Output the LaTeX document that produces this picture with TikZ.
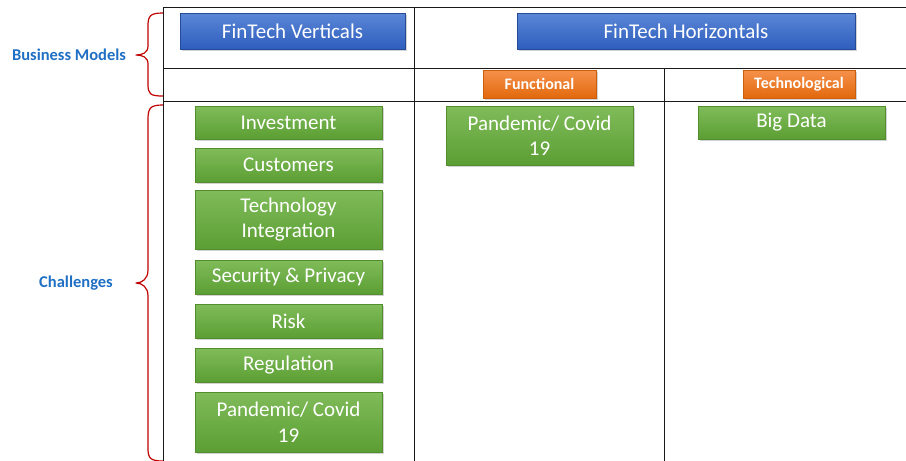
\documentclass[tikz,border=0pt]{standalone}
\usepackage{fontspec}
\setmainfont{Carlito}
\usetikzlibrary{shadows}
\definecolor{bluetop}{HTML}{5B87D6}
\definecolor{bluebot}{HTML}{2E5EBE}
\definecolor{greentop}{HTML}{80BC5A}
\definecolor{greenbot}{HTML}{5B9E33}
\definecolor{orangetop}{HTML}{F5914C}
\definecolor{orangebot}{HTML}{E2690C}
\definecolor{labelblue}{HTML}{1F6FC5}
\definecolor{bracered}{HTML}{C00000}
\tikzset{
  x=1pt, y=-1pt,
  boxbase/.style={rectangle, inner sep=0pt, text=white, align=center,
    drop shadow={opacity=0.35, shadow xshift=1.5pt, shadow yshift=-1.5pt}},
  bluebox/.style={boxbase, top color=bluetop, bottom color=bluebot, draw=bluebot!80!black, line width=0.3pt,
    font=\fontsize{21}{24}\selectfont},
  greenbox/.style={boxbase, top color=greentop, bottom color=greenbot, draw=greenbot!90!black, line width=0.2pt,
    minimum width=187pt, font=\fontsize{21}{25.5}\selectfont},
  orangebox/.style={boxbase, top color=orangetop, bottom color=orangebot, draw=orangebot!90!black, line width=0.2pt,
    minimum height=28pt, font=\bfseries\fontsize{16}{18}\selectfont},
  gridline/.style={line width=1pt, draw=black!90},
  bracepath/.style={draw=bracered, line width=1.2pt, line join=round},
  sidelabel/.style={text=labelblue, font=\bfseries\fontsize{16.5}{18}\selectfont},
}
\begin{document}
\begin{tikzpicture}
\useasboundingbox (0,0) rectangle (906,461);
% grid
\coordinate (g1) at (163,7);
\coordinate (g2) at (906,7);
\coordinate (g3) at (163,68);
\coordinate (g4) at (906,68);
\coordinate (g5) at (163,101);
\coordinate (g6) at (906,101);
\coordinate (g7) at (163,461);
\coordinate (g8) at (414,7);
\coordinate (g9) at (414,461);
\coordinate (g10) at (664,68);
\coordinate (g11) at (664,461);
\draw[gridline] (g1) -- (g2);
\draw[gridline] (g3) -- (g4);
\draw[gridline] (g5) -- (g6);
\draw[gridline] (g1) -- (g7);
\draw[gridline] (g8) -- (g9);
\draw[gridline] (g10) -- (g11);
% header boxes
\node[bluebox, minimum width=225pt, minimum height=36pt] (vert) at (292.5,31) {FinTech Verticals};
\node[bluebox, minimum width=338pt, minimum height=36pt] (horiz) at (686,31) {FinTech Horizontals};
\node[orangebox, minimum width=113pt] (func) at (539.5,84) {Functional};
\node[orangebox, minimum width=112pt] (tech) at (799,84) {Technological};
% left column
\node[greenbox, minimum height=33pt] (inv) at (288.5,122.5) {Investment};
\node[greenbox, minimum height=34pt] (cust) at (288.5,165) {Customers};
\node[greenbox, minimum height=59pt] (tint) at (288.5,219.5) {Technology\\Integration};
\node[greenbox, minimum height=34pt] (sec) at (288.5,277) {Security \& Privacy};
\node[greenbox, minimum height=34pt] (risk) at (288.5,321) {Risk};
\node[greenbox, minimum height=34pt] (reg) at (288.5,365) {Regulation};
\node[greenbox, minimum height=60pt] (pan1) at (288.5,422) {Pandemic/ Covid\\19};
% middle / right
\node[greenbox, minimum height=59pt] (pan2) at (539.5,135.5) {Pandemic/ Covid\\19};
\node[greenbox, minimum height=33pt] (big) at (791.5,122.5) {Big Data};
% braces
\draw[bracepath] (163,13) .. controls (150,13) and (148,16) .. (148,26)
  -- (148,46) .. controls (148,53) and (142,55) .. (136,55)
  .. controls (142,55) and (148,57) .. (148,64)
  -- (148,84) .. controls (148,94) and (150,96) .. (163,96);
\draw[bracepath] (163,105) .. controls (150,105) and (148,108) .. (148,120)
  -- (148,270) .. controls (148,279) and (142,283) .. (136,283)
  .. controls (142,283) and (148,287) .. (148,296)
  -- (148,448) .. controls (148,458) and (150,461) .. (163,461);
\node[sidelabel] (bm) at (69,55) {Business Models};
\node[sidelabel] (ch) at (76,283) {Challenges};
\end{tikzpicture}
\end{document}
